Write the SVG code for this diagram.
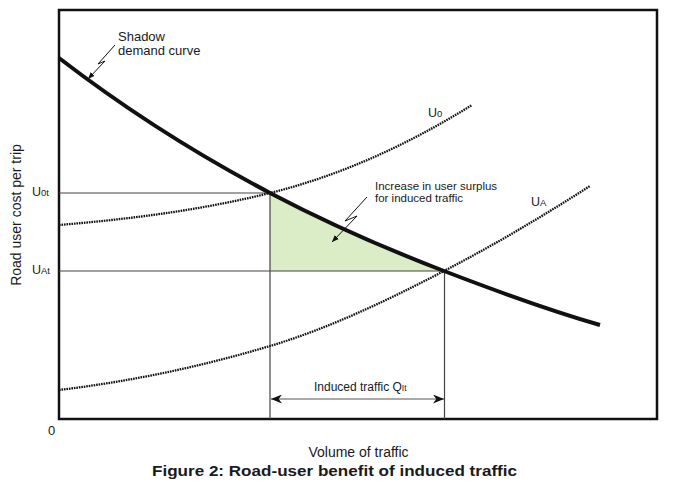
<svg xmlns="http://www.w3.org/2000/svg" width="682" height="490" viewBox="0 0 682 490">
<style>
  text { font-family: "Liberation Sans", Arial, sans-serif; fill: #1a1a1a; }
  .thin { stroke: #444; stroke-width: 1.2; fill: none; }
  .dot { stroke: #111; stroke-width: 2.3; stroke-dasharray: 1.6 0.9; fill: none; }
  .bolt { stroke: #111; stroke-width: 1; fill: none; }
  .lbl { font-size: 12.5px; }
  .sub { font-size: 9.5px; }
</style>
<defs>
  <marker id="small" viewBox="0 0 10 10" refX="10" refY="5" markerWidth="7" markerHeight="7" markerUnits="userSpaceOnUse" orient="auto">
    <path d="M0,1 L10,5 L0,9 Z" fill="#111"/>
  </marker>
  <marker id="big" viewBox="0 0 10 10" refX="10" refY="5" markerWidth="11" markerHeight="9" markerUnits="userSpaceOnUse" orient="auto-start-reverse" preserveAspectRatio="none">
    <path d="M0,0 L10,5 L0,10 L3,5 Z" fill="#111"/>
  </marker>
</defs>
<rect width="682" height="490" fill="#fff"/>

<g id="surplus-area">
  <path d="M270,192.9 C328,223.4 386,248.7 444,271 L270,271 Z" fill="#dbedc6"/>
</g>

<g id="frame">
  <rect x="59" y="10" width="598" height="409" fill="none" stroke="#111" stroke-width="2.5"/>
</g>

<g id="connectors">
  <line class="thin" x1="59" y1="193" x2="270" y2="193"/>
  <line class="thin" x1="59" y1="271" x2="444" y2="271"/>
  <line class="thin" x1="270" y1="193" x2="270" y2="419"/>
  <line class="thin" x1="444.5" y1="271" x2="444.5" y2="419"/>
  <line x1="271" y1="399" x2="444" y2="399" stroke="#555" stroke-width="1.2" marker-start="url(#big)" marker-end="url(#big)"/>
  <polyline class="bolt" points="115,45 98,64 105,61 88,79" marker-end="url(#small)"/>
  <polyline class="bolt" points="367,197 345,221 357,216 332,242" marker-end="url(#small)"/>
</g>

<g id="curve-u0">
  <path class="dot" d="M59,225 C129.33,219.09 199.67,210.44 270,193 C337.33,176.3 404.67,146.74 472,105"/>
</g>
<g id="curve-ua">
  <path class="dot" d="M59,390 C129.33,381.56 199.67,367.1 270,346 C328,328.6 386,301.16 444,271 C492.67,245.7 541.33,217.15 590,186"/>
</g>
<g id="demand-curve">
  <path d="M59,58 C129.33,112.06 199.67,155.93 270,192.9 C328,223.4 386,248.7 444,271 C496,291 548,309.9 600,325" fill="none" stroke="#111" stroke-width="4"/>
</g>

<g id="labels">
  <text x="118" y="41" font-size="13">Shadow</text>
  <text x="118" y="55" font-size="13">demand curve</text>
  <text x="375" y="190" font-size="11.5">Increase in user surplus</text>
  <text x="375" y="202" font-size="11.5">for induced traffic</text>
  <text x="428" y="117" class="lbl">U<tspan class="sub">0</tspan></text>
  <text x="531" y="206" class="lbl">U<tspan class="sub">A</tspan></text>
  <text x="32" y="196" class="lbl">U<tspan class="sub">0t</tspan></text>
  <text x="32" y="274" class="lbl">U<tspan class="sub">At</tspan></text>
  <text x="48" y="435" font-size="13">0</text>
  <text x="314" y="391" font-size="12">Induced traffic Q<tspan font-size="8.5">It</tspan></text>
  <text x="358.5" y="457" font-size="14" text-anchor="middle">Volume of traffic</text>
  <text transform="translate(20.5,215) rotate(-90)" font-size="14" text-anchor="middle">Road user cost per trip</text>
  <text x="152" y="476" font-family="'DejaVu Sans', sans-serif" font-weight="bold" font-size="15.5" textLength="365" lengthAdjust="spacingAndGlyphs">Figure 2: Road-user benefit of induced traffic</text>
</g>
</svg>
